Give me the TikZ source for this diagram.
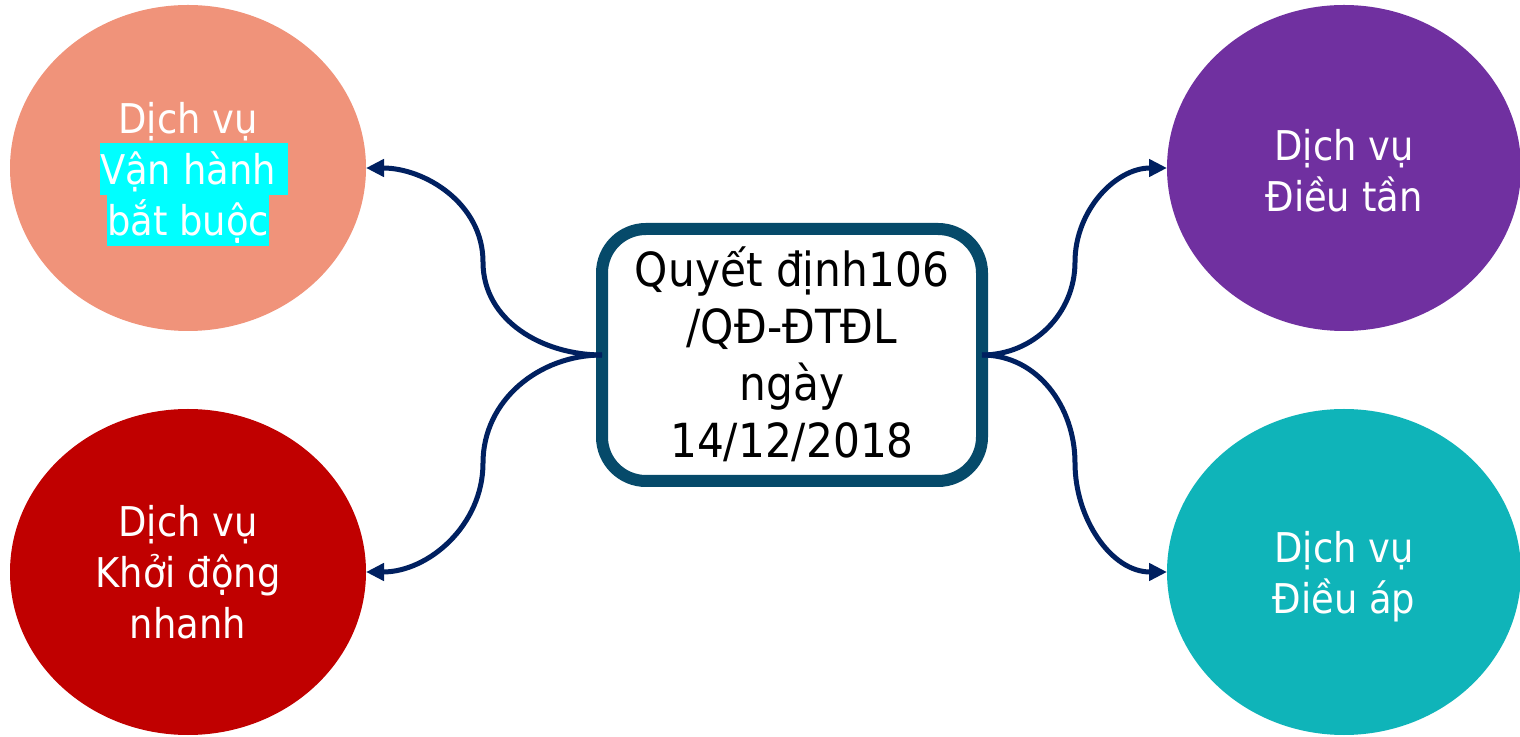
\documentclass[tikz,border=0pt]{standalone}
\usepackage{fontspec}
\setmainfont{DejaVu Sans}[FakeStretch=0.9]
\usetikzlibrary{shapes.geometric,arrows.meta}
\definecolor{peach}{RGB}{240,147,122}
\definecolor{darkred}{RGB}{192,0,0}
\definecolor{violet2}{RGB}{112,48,160}
\definecolor{teal2}{RGB}{15,180,185}
\definecolor{navy2}{RGB}{0,32,96}
\definecolor{boxblue}{RGB}{6,74,106}
\definecolor{hicyan}{RGB}{0,255,255}
\newsavebox\hlsave
\newcommand\hlspace[1]{\sbox\hlsave{#1}\makebox[\wd\hlsave][l]{\smash{\setlength{\fboxsep}{0pt}\colorbox{hicyan}{\rule[-10pt]{0pt}{52pt}#1\ }}}}
\newcommand\hlplain[1]{\smash{\setlength{\fboxsep}{0pt}\colorbox{hicyan}{\rule[-10pt]{0pt}{51pt}#1}}}
\tikzset{
  svc/.style={ellipse, inner sep=0pt, outer sep=0pt, minimum width=356pt, minimum height=326pt,
    text=white, align=center, font=\fontsize{41}{51}\selectfont, text depth=20pt},
  qdbox/.style={rectangle, rounded corners=44pt, draw=boxblue, line width=12pt, fill=white,
    inner sep=0pt, outer sep=0pt, minimum width=380pt, minimum height=252pt,
    align=center, font=\fontsize{47}{57}\selectfont, text height=226pt, text depth=20pt},
  conn/.style={draw=navy2, line width=5pt, -{Triangle[length=18pt,width=17pt]}}
}
\begin{document}
\begin{tikzpicture}[x=1pt,y=1pt]
\fill[white] (0,0) rectangle (1520,736);
\useasboundingbox (0,0) rectangle (1520,736);
\node[svc, fill=peach, text height=156pt] (e1) at (188,568) {Dịch vụ\\ \hlspace{Vận hành}\\ \hlplain{bắt buộc}};
\node[svc, fill=darkred, text height=154pt] (e2) at (188,164) {Dịch vụ\\ Khởi động\\ nhanh};
\node[svc, fill=violet2, minimum width=354pt, text height=108pt] (e3) at (1344,568) {Dịch vụ\\ Điều tần};
\node[svc, fill=teal2, minimum width=354pt, text height=104pt] (e4) at (1344,164) {Dịch vụ\\ Điều áp};
\node[qdbox] (qd) at (792,381) {Quyết định106\\ /QĐ-ĐTĐL\\ ngày\\ 14/12/2018};
\coordinate (m1) at (483,474);
\coordinate (m2) at (483,273);
\coordinate (m3) at (1075,474);
\coordinate (m4) at (1075,273);
\draw[conn] (qd.west) to[out=180,in=-90] (m1) to[out=90,in=0] (e1.east);
\draw[conn] (qd.west) to[out=180,in=90] (m2) to[out=-90,in=0] (e2.east);
\draw[conn] (qd.east) to[out=0,in=-90] (m3) to[out=90,in=180] (e3.west);
\draw[conn] (qd.east) to[out=0,in=90] (m4) to[out=-90,in=180] (e4.west);
\end{tikzpicture}
\end{document}
